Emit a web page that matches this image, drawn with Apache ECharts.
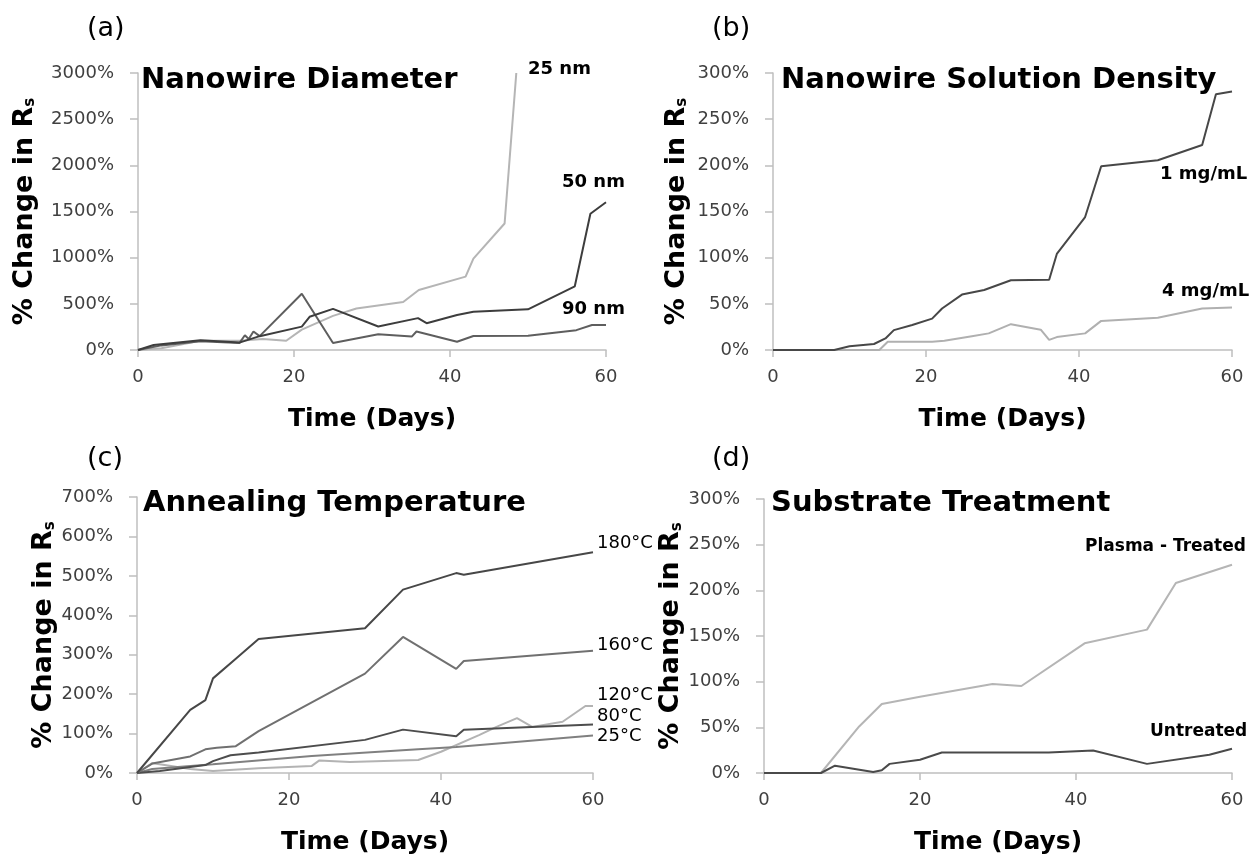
<!DOCTYPE html>
<html>
<head>
<meta charset="utf-8">
<script src="https://cdn.jsdelivr.net/npm/echarts@6/dist/echarts.min.js"></script>
<style>
html, body { margin: 0; padding: 0; background: #fff; }
#chart { width: 1260px; height: 861px; }
</style>
</head>
<body>
<div id="chart"></div>
<script>
// (a) nanowire diameter
var daysA25 = [0, 3, 5, 8, 13, 16, 19, 21, 25, 28, 34, 36, 42, 43, 47, 48.5];
var valsA25 = [0, 20, 50, 100, 100, 120, 100, 220, 370, 450, 520, 650, 795, 990, 1370, 3000];
var daysA50 = [0, 2, 8, 13, 15.6, 21, 22, 25, 30.8, 35.9, 37, 40.9, 43, 50, 56, 58, 60];
var valsA50 = [0, 54, 105, 80, 150, 253, 360, 445, 255, 345, 290, 380, 415, 440, 690, 1475, 1600];
var daysA90 = [0, 3, 8, 13, 13.7, 14.2, 14.8, 15.6, 21, 25, 30.8, 35.1, 35.7, 40.9, 43, 50, 56.2, 58.2, 60];
var valsA90 = [0, 50, 95, 75, 160, 120, 200, 150, 610, 75, 170, 145, 200, 90, 152, 155, 215, 270, 270];

// (b) solution density
var daysB1 = [0, 8, 10, 13.2, 14.7, 15.8, 18.2, 20.8, 22.1, 24.7, 27.6, 31.1, 36.1, 37.1, 40.8, 42.9, 50.3, 56.1, 57.9, 60];
var valsB1 = [0, 0, 4, 6.5, 12.5, 21.5, 27, 34, 45, 60, 65, 75.5, 76, 104, 144, 199, 205.5, 222, 277, 280];
var daysB4 = [0, 13.9, 15, 20.8, 22.4, 26, 28.2, 31.1, 35, 36.1, 37.1, 40.8, 42.9, 50.3, 56.1, 60];
var valsB4 = [0, 0, 9, 9, 10, 15, 18, 28, 22, 11, 14, 18, 31.5, 35, 45, 46];

// (c) annealing temperature
var daysC180 = [0, 7, 9, 10, 13, 16, 30, 35, 42, 43, 60];
var valsC180 = [0, 160, 185, 240, 290, 340, 367, 465, 507, 503, 560];
var daysC160 = [0, 2, 7, 9, 10.5, 13, 16, 30, 35, 42, 43, 60];
var valsC160 = [0, 24, 42, 60, 64, 68, 106, 252, 345, 264, 284, 310];
var daysC120 = [0, 2, 3, 7, 10, 16, 23, 24, 28, 37, 40, 45, 47.3, 50, 52, 56, 59, 60];
var valsC120 = [0, 25, 22, 10, 5, 12, 18, 32, 28, 33, 54, 96, 117, 139, 117, 130, 170, 170];
var daysC80 = [0, 3, 9, 10, 12.3, 16, 30, 35, 42, 43, 60];
var valsC80 = [0, 5, 20, 30, 45, 52, 84, 110, 93, 110, 123];
var daysC25 = [0, 2, 10, 23, 37, 42, 60];
var valsC25 = [0, 10, 22, 43, 60, 66, 95];

// (d) substrate treatment
var daysDP = [0, 7.3, 12.2, 15.1, 20, 29.3, 33, 41.1, 49.1, 52.8, 60];
var valsDP = [0, 0, 51, 75.5, 83.5, 97.5, 95.3, 142, 157, 208, 228];
var daysDU = [0, 7.3, 9.1, 14, 15.1, 16.1, 20, 22.8, 36.5, 42.2, 49.1, 57.1, 60];
var valsDU = [0, 0, 8, 1, 3, 10, 14.5, 22.5, 22.5, 24.7, 10, 20, 26.5];

var FONT = 'DejaVu Sans';

function pairs(d, v) {
    return d.map(function (x, i) { return [x, v[i]]; });
}

function xAx(idx, gap) {
    return {
        gridIndex: idx, type: 'value', min: 0, max: 60, interval: 20,
        axisLine: { show: true, lineStyle: { color: '#bfbfbf', width: 1.5 } },
        axisTick: { show: true, length: 7, lineStyle: { color: '#bfbfbf', width: 1.5 } },
        splitLine: { show: false },
        axisLabel: { color: '#404040', fontSize: 18, fontFamily: FONT, margin: 18 },
        name: 'Time (Days)', nameLocation: 'middle', nameGap: gap,
        nameTextStyle: { color: '#000', fontSize: 25, fontWeight: 'bold', fontFamily: FONT }
    };
}

function yAx(idx, max, step, gap) {
    return {
        gridIndex: idx, type: 'value', min: 0, max: max, interval: step,
        axisLine: { show: true, lineStyle: { color: '#bfbfbf', width: 1.5 } },
        axisTick: { show: true, length: 8, lineStyle: { color: '#bfbfbf', width: 1.5 } },
        splitLine: { show: false },
        axisLabel: {
            color: '#404040', fontSize: 18, fontFamily: FONT, margin: 24,
            formatter: function (v) { return v + '%'; }
        },
        name: '% Change in R{s|s}', nameLocation: 'middle', nameRotate: 90, nameGap: gap,
        nameTextStyle: {
            color: '#000', fontSize: 27, fontWeight: 'bold', fontFamily: FONT,
            rich: { s: { fontSize: 15, fontWeight: 'bold', fontFamily: FONT, color: '#000', verticalAlign: 'bottom' } }
        }
    };
}

function line(idx, d, v, color) {
    return {
        type: 'line', xAxisIndex: idx, yAxisIndex: idx, data: pairs(d, v),
        symbol: 'none', silent: true,
        lineStyle: { color: color, width: 2 }, itemStyle: { color: color }
    };
}

function txt(s, left, top, size, bold) {
    return {
        text: s, left: left, top: top, padding: 0,
        textStyle: { color: '#000', fontSize: size, fontWeight: bold ? 'bold' : 'normal', fontFamily: FONT }
    };
}

var chart = echarts.init(document.getElementById('chart'));

var option = {
    animation: false,
    backgroundColor: '#fff',
    title: [
        txt('(a)', 87, 15, 27, false),
        txt('(b)', 712, 15, 27, false),
        txt('(c)', 87, 445, 27, false),
        txt('(d)', 712, 445, 27, false),
        txt('Nanowire Diameter', 141, 66, 29, true),
        txt('Nanowire Solution Density', 781, 66, 29, true),
        txt('Annealing Temperature', 143, 489, 29, true),
        txt('Substrate Treatment', 771, 489, 29, true),
        txt('25 nm', 528, 60, 18, true),
        txt('50 nm', 562, 173, 18, true),
        txt('90 nm', 562, 300, 18, true),
        txt('1 mg/mL', 1160, 165, 18, true),
        txt('4 mg/mL', 1162, 282, 18, true),
        txt('180°C', 597, 534, 18, false),
        txt('160°C', 597, 636, 18, false),
        txt('120°C', 597, 686, 18, false),
        txt('80°C', 597, 707, 18, false),
        txt('25°C', 597, 727, 18, false),
        txt('Plasma - Treated', 1085, 538, 17, true),
        txt('Untreated', 1150, 723, 17, true)
    ],
    grid: [
        { left: 138, top: 73, width: 468, height: 277 },
        { left: 773, top: 73, width: 459, height: 277 },
        { left: 137, top: 497, width: 456, height: 276 },
        { left: 764, top: 499, width: 468, height: 274 }
    ],
    xAxis: [xAx(0, 57), xAx(1, 57), xAx(2, 57), xAx(3, 57)],
    yAxis: [yAx(0, 3000, 500, 100), yAx(1, 300, 50, 83), yAx(2, 700, 100, 77), yAx(3, 300, 50, 74)],
    series: [
        line(0, daysA25, valsA25, '#b5b5b5'),
        line(0, daysA90, valsA90, '#5e5e5e'),
        line(0, daysA50, valsA50, '#3d3d3d'),
        line(1, daysB4, valsB4, '#b0b0b0'),
        line(1, daysB1, valsB1, '#474747'),
        line(2, daysC120, valsC120, '#b3b3b3'),
        line(2, daysC25, valsC25, '#808080'),
        line(2, daysC80, valsC80, '#4d4d4d'),
        line(2, daysC160, valsC160, '#707070'),
        line(2, daysC180, valsC180, '#474747'),
        line(3, daysDP, valsDP, '#b5b5b5'),
        line(3, daysDU, valsDU, '#4a4a4a')
    ]
};

chart.setOption(option);

window.onresize = function () {
    chart.resize();
};
</script>
</body>
</html>
